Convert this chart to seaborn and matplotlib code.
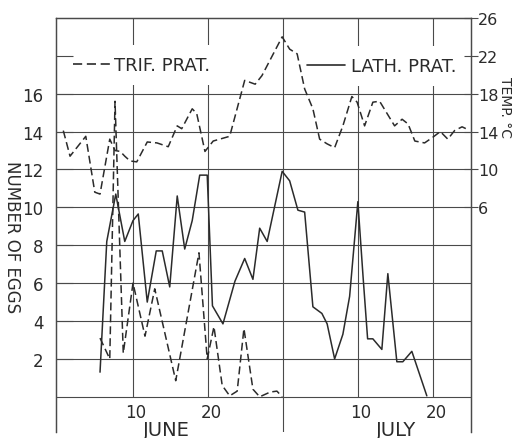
import numpy as np
import pandas as pd
import matplotlib
matplotlib.use("Agg")
import matplotlib.pyplot as plt
from matplotlib.lines import Line2D
import seaborn as sns

# day index: June d -> d, July d -> 30 + d
temp_day = [0.7, 1.6, 3.7, 4.9, 5.6, 6.9, 7.6, 8.3, 8.9, 9.6, 10.5, 11.9, 13.2, 14.7, 15.9,
            16.5, 17.9, 18.5, 19.6, 20.7, 22.9, 24.9, 26.3, 27.2, 29.9, 30.9, 31.9, 32.9,
            34.0, 34.9, 35.9, 36.9, 38.0, 39.2, 39.9, 40.9, 42.0, 42.9, 43.9, 44.9, 45.9,
            46.7, 47.6, 48.9, 50.0, 51.0, 52.0, 52.9, 53.9, 54.7]
temp_c = [14.1, 11.4, 13.5, 7.6, 7.4, 13.2, 12.0, 11.9, 11.4, 10.9, 10.8, 12.9, 12.8, 12.4,
          14.6, 14.3, 16.4, 15.9, 11.9, 13.0, 13.5, 19.4, 19.0, 19.9, 24.0, 22.7, 22.2, 18.5,
          16.4, 13.2, 12.7, 12.3, 14.6, 17.7, 17.1, 14.6, 17.1, 17.2, 15.9, 14.6, 15.3, 14.8,
          13.0, 12.8, 13.4, 14.0, 13.2, 14.1, 14.5, 14.2]

trif_day = [5.6, 6.9, 7.6, 8.7, 10.0, 11.6, 12.9, 15.7, 18.8, 19.9, 20.8, 21.9, 22.9, 23.9,
            24.8, 26.0, 26.9, 28.3, 29.2, 29.9]
trif_eggs = [3.1, 2.0, 15.6, 2.3, 6.0, 3.2, 5.7, 0.85, 7.6, 2.0, 3.7, 0.6, 0.05, 0.3, 3.6,
             0.4, 0.0, 0.25, 0.3, 0.0]

lath_day = [5.6, 6.5, 7.7, 8.9, 10.0, 10.7, 11.9, 13.1, 13.9, 14.9, 15.9, 16.9, 17.9, 18.9,
            19.9, 20.6, 22.0, 23.6, 24.9, 26.0, 26.9, 27.9, 29.9, 30.9, 32.0, 32.9, 34.0,
            35.2, 35.9, 36.9, 38.0, 38.9, 40.0, 40.7, 41.3, 42.0, 43.2, 44.0, 45.2, 46.0,
            47.2, 49.2]
lath_eggs = [1.3, 8.2, 10.7, 8.2, 9.3, 9.65, 5.0, 7.7, 7.7, 5.8, 10.6, 7.8, 9.3, 11.7, 11.7,
             4.8, 3.85, 6.1, 7.3, 6.2, 8.9, 8.2, 11.9, 11.4, 9.85, 9.75, 4.75, 4.4, 3.85, 2.0,
             3.3, 5.3, 10.3, 6.3, 3.06, 3.06, 2.5, 6.5, 1.85, 1.85, 2.4, 0.05]

egg_ticks = [2, 4, 6, 8, 10, 12, 14, 16, 18]
egg_labels = ["2", "4", "6", "8", "10", "12", "14", "16", ""]
temp_ticks = [6, 10, 14, 18, 22, 26]
day_ticks = [10, 20, 40, 50]
day_labels = ["10", "20", "10", "20"]
months = ["JUNE", "JULY"]
month_pos = [14.5, 45.1]

ink = "#2b2b2b"
grid = "#4a4a4a"

sns.set_theme(style="white")
plt.rcParams["font.family"] = ["DejaVu Sans"]

fig = plt.figure(figsize=(5.14, 4.39), dpi=100)
ax = fig.add_axes([0.109, 0.014, 0.807, 0.943])
ax2 = ax.twinx()

ax.set_xlim(-0.27, 55.07)
ax.set_ylim(-1.85, 20.0)
ax2.set_ylim(2 * -1.85 - 14, 26)

# grid
for e in [0] + egg_ticks[:-1]:
    ax.axhline(e, color=grid, lw=0.8, zorder=1)
ax.vlines(day_ticks, 0, 20, color=grid, lw=0.8, zorder=1)
ax.axvline(30, color=grid, lw=0.8, zorder=1)

dash = (0, (5.2, 2.6))
sns.lineplot(x=lath_day, y=lath_eggs, ax=ax, color=ink, lw=1.1, zorder=3)
sns.lineplot(x=trif_day, y=trif_eggs, ax=ax, color=ink, lw=1.1, linestyle=dash, zorder=3)
sns.lineplot(x=temp_day, y=temp_c, ax=ax2, color=ink, lw=1.1, linestyle=dash, zorder=3)

for a in (ax, ax2):
    a.set_axisbelow(False)
    a.spines["bottom"].set_visible(False)
    for s in ("left", "right", "top"):
        a.spines[s].set_color(grid)
        a.spines[s].set_linewidth(0.9)
    a.set_xticks([])
    a.set_xlabel("")

ax.set_yticks(egg_ticks)
ax.set_yticklabels(egg_labels)
ax.tick_params(axis="y", left=True, direction="in", length=12, width=0.8, color=grid,
               pad=9, labelsize=12, labelcolor=ink)
ax2.set_yticks(temp_ticks)
ax2.set_yticklabels([str(t) for t in temp_ticks])
ax2.tick_params(axis="y", right=True, direction="inout", length=10, width=0.8, color=grid,
                pad=0, labelsize=11.5, labelcolor=ink)

ax.set_ylabel("NUMBER OF EGGS", rotation=270, fontsize=12, color=ink, va="center", ha="center")
ax.yaxis.set_label_coords(-0.106, 0.473)
ax2.set_ylabel("TEMP. °C", rotation=270, fontsize=10, color=ink, va="center", ha="center")
ax2.yaxis.set_label_coords(1.082, 0.787)

for d, lab in zip(day_ticks, day_labels):
    ax.text(d + 0.4, -0.8, lab, ha="center", va="center", fontsize=12, color=ink)
for d, lab in zip(month_pos, months):
    ax.text(d, -1.7, lab, ha="center", va="center", fontsize=14, color=ink, clip_on=False)

h1 = Line2D([], [], color=ink, lw=1.2, linestyle=(0, (5.5, 2.8)))
h2 = Line2D([], [], color=ink, lw=1.2)
leg1 = ax.legend([h1], ["TRIF. PRAT."], loc="center left", bbox_to_anchor=(0.015, 0.886),
                 borderaxespad=0, borderpad=0.6, handlelength=2.1, handletextpad=0.15,
                 fontsize=13, frameon=True, facecolor="white", edgecolor="none",
                 framealpha=1, fancybox=False, labelcolor=ink)
leg1.set_zorder(1.5)
ax.add_artist(leg1)
leg2 = ax.legend([h2], ["LATH. PRAT."], loc="center left", bbox_to_anchor=(0.579, 0.884),
                 borderaxespad=0, borderpad=0.6, handlelength=2.1, handletextpad=0.35,
                 fontsize=13, frameon=True, facecolor="white", edgecolor="none",
                 framealpha=1, fancybox=False, labelcolor=ink)
leg2.set_zorder(1.5)

fig.savefig("out.png", dpi=100)
